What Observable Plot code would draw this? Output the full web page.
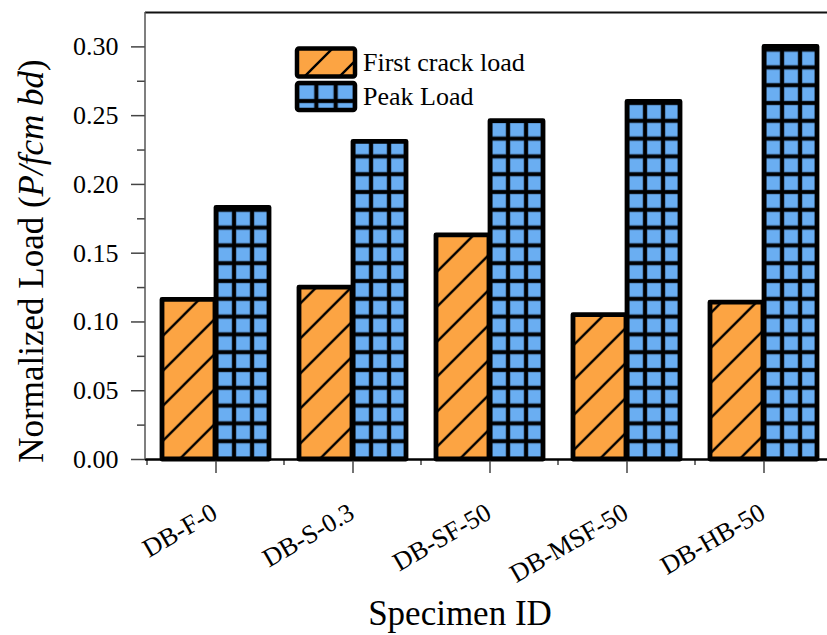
<!DOCTYPE html>
<html><head><meta charset="utf-8">
<script src="https://cdn.jsdelivr.net/npm/d3@7"></script>
<script src="https://cdn.jsdelivr.net/npm/@observablehq/plot@0.6"></script>
<style>html,body{margin:0;padding:0;background:#fff;overflow:hidden}</style>
</head><body><div id="chart"></div>
<script>
const specimens = ["DB-F-0", "DB-S-0.3", "DB-SF-50", "DB-MSF-50", "DB-HB-50"];
const firstCrack = [0.116, 0.125, 0.163, 0.105, 0.114];
const peakLoad = [0.183, 0.231, 0.246, 0.260, 0.300];
const seriesNames = ["First crack load", "Peak Load"];
const yMajorTicks = [0, 0.05, 0.10, 0.15, 0.20, 0.25, 0.30];
const yMinorTicks = [0.025, 0.075, 0.125, 0.175, 0.225, 0.275];
const yDomain = [0, 0.325];

const ORANGE = "#fca443", BLUE = "#6aaef2";
const W = 827, H = 635;
const X_RANGE = [145, 835];
const PAD_IN = 0.217, PAD_OUT = 0.1087;
const step = (X_RANGE[1] - X_RANGE[0]) / (specimens.length - PAD_IN + 2 * PAD_OUT);
const bandW = step * (1 - PAD_IN);
const half = bandW / 2;
const FONT = "'Liberation Serif', 'Times New Roman', serif";

const rows = specimens.map((s, i) => ({specimen: s, first: firstCrack[i], peak: peakLoad[i], i}));

const chart = Plot.plot({
  width: W, height: H, marginTop: 12, marginBottom: 176, marginLeft: 145, marginRight: 0,
  style: {fontFamily: FONT, fontSize: "26px", color: "#000", background: "#fff"},
  x: {type: "band", domain: specimens, range: X_RANGE, paddingInner: PAD_IN, paddingOuter: PAD_OUT, label: null},
  y: {domain: yDomain, label: null},
  color: {type: "identity"},
  marks: [
    Plot.barY(rows, {x: "specimen", y: "first", insetRight: half, fill: "url(#hatch)", stroke: "#000", strokeWidth: 4.8, strokeLinejoin: "round"}),
    Plot.barY(rows, {x: "specimen", y: "peak", insetLeft: half, fill: d => `url(#grid${d.i})`, stroke: "#000", strokeWidth: 4.8, strokeLinejoin: "round"}),
    Plot.axisY({ticks: yMajorTicks, tickFormat: d3.format(".2f"), tickSize: 14, tickPadding: 13, fontSize: 26, stroke: "#444", strokeWidth: 1.5, label: null}),
    Plot.axisY({ticks: yMinorTicks, tickSize: 8, text: null, stroke: "#444", strokeWidth: 1.5, label: null}),
    Plot.axisX({ticks: specimens, tickSize: 14, text: null, stroke: "#444", strokeWidth: 1.5, label: null}),
    Plot.axisX({ticks: specimens, tickSize: 6, text: null, dx: -step / 2, stroke: "#444", strokeWidth: 1.5, label: null}),
    Plot.text(specimens, {x: d => d, frameAnchor: "bottom", dy: 58, dx: 3, rotate: -30, textAnchor: "end", lineAnchor: "bottom", fontSize: 26}),
    Plot.ruleY([0], {stroke: "#000", strokeWidth: 2.5}),
    Plot.ruleY([yDomain[1]], {stroke: "#111", strokeWidth: 2})
  ]
});
document.getElementById("chart").appendChild(chart);

const svg = d3.select(chart);
const xs = chart.scale("x"), ys = chart.scale("y");
const defs = svg.insert("defs", ":first-child");

function hatch(id, ox, oy) {
  const p = defs.append("pattern").attr("id", id).attr("patternUnits", "userSpaceOnUse")
    .attr("width", 35).attr("height", 35).attr("x", ox).attr("y", oy);
  p.append("rect").attr("width", 35).attr("height", 35).attr("fill", ORANGE);
  p.append("path").attr("d", "M0,35L35,0M-5,5L5,-5M30,40L40,30")
    .attr("stroke", "#000").attr("stroke-width", 2.4).attr("fill", "none");
}
function grid(id, ox, oy, w, h) {
  const p = defs.append("pattern").attr("id", id).attr("patternUnits", "userSpaceOnUse")
    .attr("width", w).attr("height", h).attr("x", ox).attr("y", oy);
  p.append("rect").attr("width", w).attr("height", h).attr("fill", "#2f4f73");
  p.append("rect").attr("x", 2.3).attr("y", 2.3).attr("width", w - 4.6).attr("height", h - 4.6).attr("fill", BLUE);
  p.append("path").attr("d", `M0,0V${h}M${w},0V${h}M0,0H${w}M0,${h}H${w}`)
    .attr("stroke", "#000").attr("stroke-width", 3.6).attr("fill", "none");
}
hatch("hatch", 8.7, 0);
specimens.forEach((s, i) => grid(`grid${i}`, xs.apply(s) + half, ys.apply(0), half / 3, 17.8));
hatch("hatchLeg", 31, 0);
grid("gridLeg", 297, 83, 58 / 3, 18);

// left axis line
svg.append("line").attr("x1", X_RANGE[0]).attr("x2", X_RANGE[0])
  .attr("y1", ys.apply(yDomain[1])).attr("y2", ys.apply(0))
  .attr("stroke", "#555").attr("stroke-width", 1.5);

// legend
const leg = svg.append("g").attr("font-family", FONT).attr("font-size", 26).attr("text-anchor", "start");
leg.append("rect").attr("x", 297).attr("y", 48.5).attr("width", 58).attr("height", 28).attr("rx", 2)
  .attr("fill", "url(#hatchLeg)").attr("stroke", "#000").attr("stroke-width", 4.5);
leg.append("rect").attr("x", 297).attr("y", 83).attr("width", 58).attr("height", 27).attr("rx", 2)
  .attr("fill", "url(#gridLeg)").attr("stroke", "#000").attr("stroke-width", 4.5);
leg.append("text").attr("x", 363).attr("y", 71).text(seriesNames[0]);
leg.append("text").attr("x", 363).attr("y", 105).text(seriesNames[1]);

// axis titles
const yl = svg.append("text").attr("transform", "translate(43,261) rotate(-90)")
  .attr("text-anchor", "middle").attr("font-family", FONT).attr("font-size", 35);
yl.append("tspan").text("Normalized Load (");
yl.append("tspan").attr("font-style", "italic").text("P/fcm bd");
yl.append("tspan").text(")");
svg.append("text").attr("x", 460).attr("y", 625).attr("text-anchor", "middle")
  .attr("font-family", FONT).attr("font-size", 35).text("Specimen ID");
</script>
</body></html>
